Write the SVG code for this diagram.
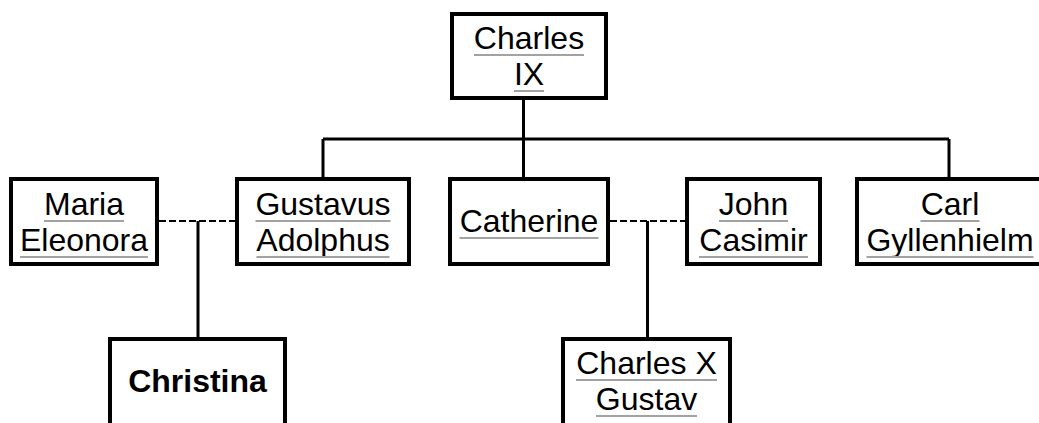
<svg xmlns="http://www.w3.org/2000/svg" width="1039" height="423" viewBox="0 0 1039 423">
<style>
.box{fill:#fff;stroke:#000;stroke-width:4}
.t{font-family:"Liberation Sans",Arial,sans-serif;font-size:32px;fill:#000;text-anchor:middle}
.b{font-weight:bold}
.u{stroke:#a2a2a2;stroke-width:2}
.c{stroke:#000;stroke-width:3;fill:none}
.d{stroke:#000;stroke-width:2;stroke-dasharray:7,3;fill:none}
</style>
<rect width="1039" height="423" fill="#fff"/>
<g id="connectors">
<path class="c" d="M523.5,100 V177 M323,139 H949 M323,139 V177 M949,139 V177"/>
<path class="d" d="M159,221 H235 M610,221 H685"/>
<path class="c" d="M198,221 V337 M647.5,221 V337"/>
</g>
<g id="charles-ix">
<rect class="box" x="452" y="14" width="154" height="84"/>
<text class="t" x="529" y="49">Charles</text>
<line class="u" x1="474" y1="55" x2="584" y2="55"/>
<text class="t" x="529" y="85">IX</text>
<line class="u" x1="514" y1="91" x2="544" y2="91"/>
</g>
<g id="maria-eleonora">
<rect class="box" x="11" y="179" width="146" height="85"/>
<text class="t" x="84" y="215">Maria</text>
<line class="u" x1="44" y1="221" x2="124" y2="221"/>
<text class="t" x="84" y="251">Eleonora</text>
<line class="u" x1="20" y1="257" x2="148" y2="257"/>
</g>
<g id="gustavus-adolphus">
<rect class="box" x="237" y="179" width="172" height="85"/>
<text class="t" x="323" y="215">Gustavus</text>
<line class="u" x1="255.5" y1="221" x2="390.5" y2="221"/>
<text class="t" x="323" y="251">Adolphus</text>
<line class="u" x1="256.5" y1="257" x2="389.5" y2="257"/>
</g>
<g id="catherine">
<rect class="box" x="450" y="179" width="158" height="85"/>
<text class="t" x="529" y="232">Catherine</text>
<line class="u" x1="459.5" y1="238" x2="598.5" y2="238"/>
</g>
<g id="john-casimir">
<rect class="box" x="687" y="179" width="133" height="85"/>
<text class="t" x="753.5" y="215">John</text>
<line class="u" x1="719" y1="221" x2="788" y2="221"/>
<text class="t" x="753.5" y="251">Casimir</text>
<line class="u" x1="699" y1="257" x2="808" y2="257"/>
</g>
<g id="carl-gyllenhielm">
<rect class="box" x="857" y="179" width="186" height="85"/>
<text class="t" x="950" y="215">Carl</text>
<line class="u" x1="920.5" y1="221" x2="979.5" y2="221"/>
<text class="t" x="950" y="251">Gyllenhielm</text>
<line class="u" x1="866.5" y1="257" x2="1033.5" y2="257"/>
</g>
<g id="christina">
<rect class="box" x="110" y="339" width="175" height="100"/>
<text class="t b" x="197.5" y="392">Christina</text>
</g>
<g id="charles-x-gustav">
<rect class="box" x="563" y="339" width="167" height="100"/>
<text class="t" x="646.5" y="374">Charles X</text>
<line class="u" x1="576" y1="380" x2="717" y2="380"/>
<text class="t" x="646.5" y="410">Gustav</text>
<line class="u" x1="596" y1="416" x2="697" y2="416"/>
</g>
</svg>
